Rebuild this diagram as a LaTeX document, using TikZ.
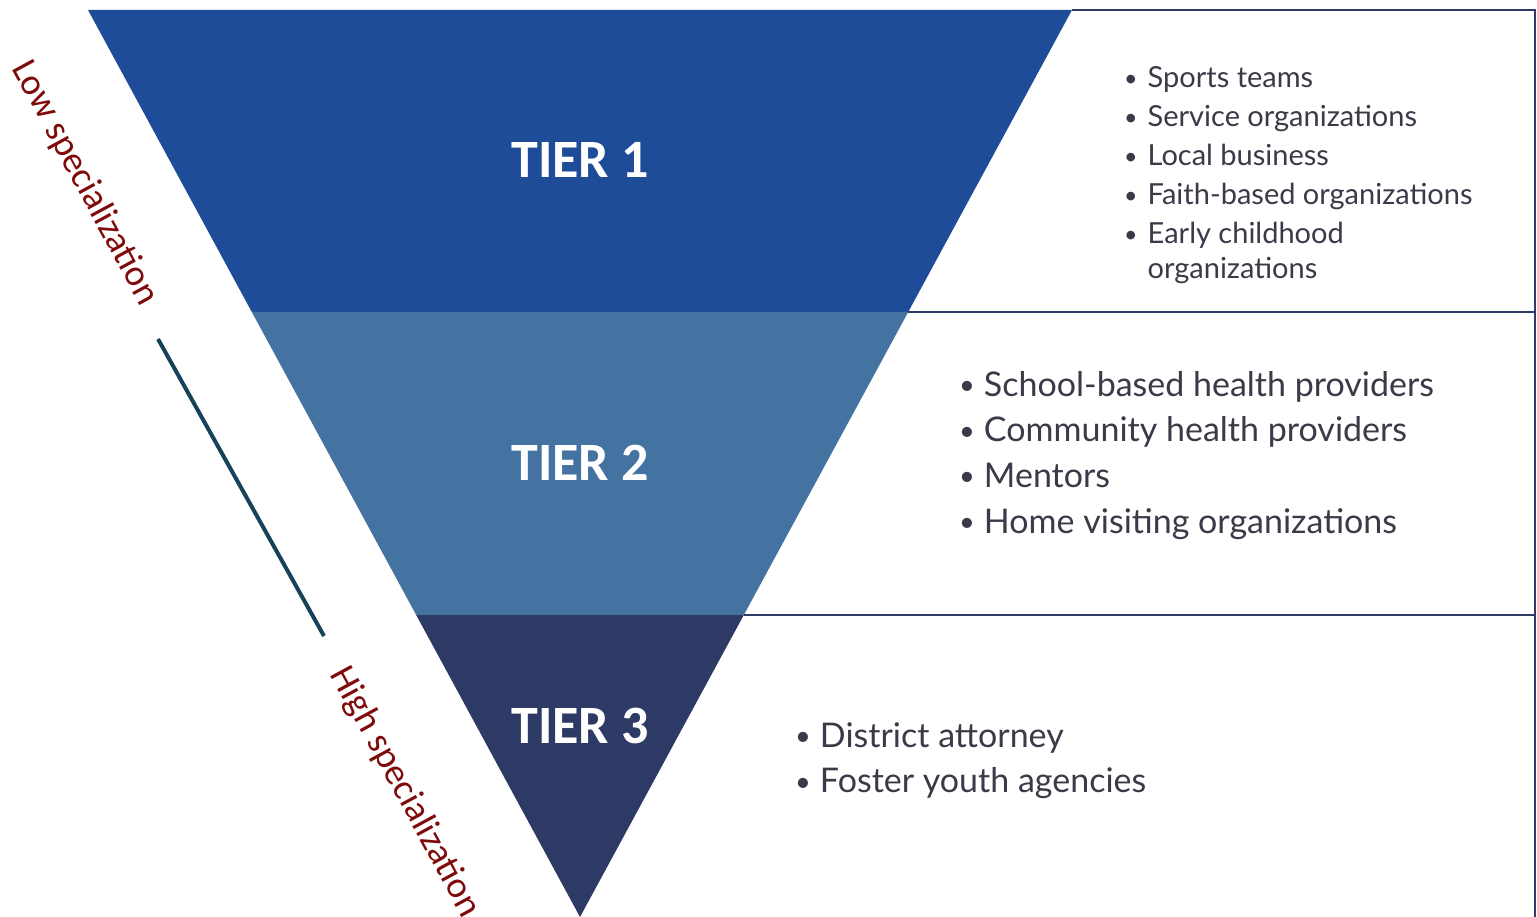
\documentclass[tikz,border=0pt]{standalone}
\usepackage{fontspec}
\setmainfont{Lato}
\newfontfamily\calib{Carlito}
\definecolor{tierA}{HTML}{1F4C98}
\definecolor{tierB}{HTML}{4473A1}
\definecolor{tierC}{HTML}{2E3A66}
\definecolor{frame}{HTML}{2F3B66}
\definecolor{bodytext}{HTML}{3A3A48}
\definecolor{sidered}{HTML}{7F0A0A}
\definecolor{sideline}{HTML}{17435A}
\newcommand{\bul}{\raisebox{0.05em}{\scalebox{0.8}{\textbullet}}}
\tikzset{
  tierlabel/.style={text=white, font=\calib\bfseries\fontsize{54}{60}\selectfont, inner sep=0pt},
  sidelabel/.style={text=sidered, font=\calib\fontsize{37}{42}\selectfont, rotate=-61.5, inner sep=0pt},
  framed/.style={draw=frame, line width=2pt},
  listA/.style={text=bodytext, font=\fontsize{29}{39}\selectfont, inner sep=0pt, anchor=base west},
  listB/.style={text=bodytext, font=\fontsize{34}{45.7}\selectfont, inner sep=0pt, anchor=base west},
}
\begin{document}
\begin{tikzpicture}[x=1pt,y=-1pt]
\useasboundingbox (0,0) rectangle (1537,917);
% triangle corners
\coordinate (tl) at (88,10);
\coordinate (tr) at (1072,10);
\coordinate (ap) at (580,917);
\coordinate (l1) at (251.8,312);
\coordinate (r1) at (908.2,312);
\coordinate (l2) at (416.2,615);
\coordinate (r2) at (743.8,615);
\coordinate (fr) at (1535,10);
\coordinate (fb) at (1535,917);
\coordinate (f1) at (1535,312);
\coordinate (f2) at (1535,615);
% tiers
\fill[tierA] (tl) -- (tr) -- (r1) -- (l1) -- cycle;
\fill[tierB] (l1) -- (r1) -- (r2) -- (l2) -- cycle;
\fill[tierC] (l2) -- (r2) -- (ap) -- cycle;
% frame
\draw[framed] (tr) -- (fr) -- (fb);
\draw[framed] (r1) -- (f1);
\draw[framed] (r2) -- (f2);
% tier labels
\node[tierlabel] (t1) at (580,160) {TIER 1};
\node[tierlabel] (t2) at (580,463) {TIER 2};
\node[tierlabel] (t3) at (580,726) {TIER 3};
% side
\node[sidelabel] (low) at (85,183) {Low specialization};
\node[sidelabel] (high) at (405,792) {High specialization};
\coordinate (sa) at (158,339);
\coordinate (sb) at (324,636);
\draw[sideline, line width=4pt] (sa) -- (sb);
% lists
\node[listA] (la) at (1124,88) {\begin{tabular}[t]{@{}l@{\hspace{10pt}}l@{}}
\bul & Sports teams\\
\bul & Service organizations\\
\bul & Local business\\
\bul & Faith-based organizations\\
\bul & Early childhood\\[-4pt]
 & organizations
\end{tabular}};
\node[listB] (lb) at (959,396) {\begin{tabular}[t]{@{}l@{\hspace{9pt}}l@{}}
\bul & School-based health providers\\
\bul & Community health providers\\
\bul & Mentors\\
\bul & Home visiting organizations
\end{tabular}};
\node[listB] (lc) at (795,747) {\begin{tabular}[t]{@{}l@{\hspace{9pt}}l@{}}
\bul & District attorney\\
\bul & Foster youth agencies
\end{tabular}};
\end{tikzpicture}
\end{document}
